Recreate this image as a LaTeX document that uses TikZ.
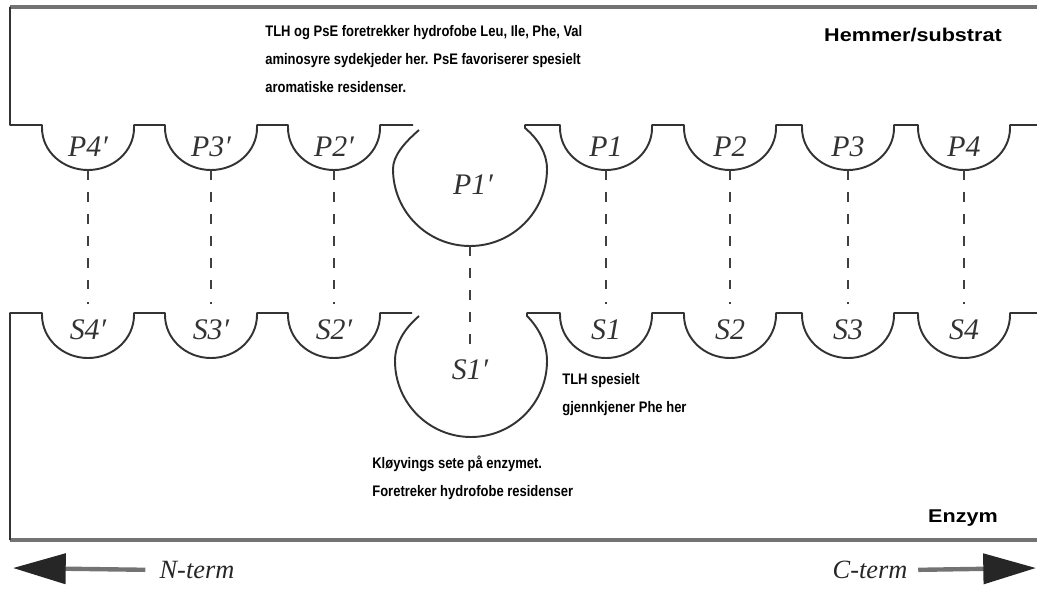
\documentclass[tikz,border=0pt]{standalone}
\usepackage{fontspec}
\usetikzlibrary{arrows.meta}
\newfontfamily\pixfont[FakeStretch=0.85]{Liberation Sans}
\newfontfamily\pixbold[FakeStretch=1.17]{Liberation Sans}
\newfontfamily\labfont{Liberation Serif}
\begin{document}
\begin{tikzpicture}[x=0.02cm,y=-0.02cm,
  outline/.style={draw=black!80, line width=1.1pt, line join=round},
  frame/.style={draw=black!55, line width=1.8pt},
  link/.style={draw=black!75, line width=1pt, dash pattern=on 5.5pt off 7pt},
  site/.style={font=\labfont\itshape\fontsize{17}{17}\selectfont, text=black!80, inner sep=0},
  note/.style={font=\pixfont\bfseries\fontsize{8.7}{15.9}\selectfont, align=left, inner sep=0, anchor=north west},
  heading/.style={font=\pixbold\bfseries\fontsize{10.5}{11}\selectfont, inner sep=0},
  termlabel/.style={font=\labfont\itshape\fontsize{15}{15}\selectfont, text=black!85, inner sep=0},
  termarrow/.style={draw=black!55, line width=2.5pt, -{Triangle[length=30pt,width=17pt,color=black!85]}}
]
\useasboundingbox (0,0) rectangle (1037,588);

% frame lines
\draw[frame] (10,7) -- (1037,7);
\draw[frame] (10,540) -- (1037,540);

% inhibitor / substrate outline
\draw[outline] (10,7) -- (10,125)
  foreach \c in {88,211,334} { -- (\c-46,125) -- (\c-46,128)
     arc[start angle=180,end angle=0,x radius=46,y radius=42] -- (\c+46,125) }
  -- (413,125)
  (419,130) .. controls (404,143) and (393,156) .. (393,169)
  arc[start angle=180,end angle=0,radius=77]
  .. controls (547,153) and (538,139) .. (525,128) -- (525,125)
  foreach \c in {606,730,848,964} { -- (\c-46,125) -- (\c-46,128)
     arc[start angle=180,end angle=0,x radius=46,y radius=42] -- (\c+46,125) }
  -- (1037,125);

% enzyme outline
\draw[outline] (10,540) -- (10,313)
  foreach \c in {88,211,334} { -- (\c-46,313) -- (\c-46,315)
     arc[start angle=180,end angle=0,x radius=46,y radius=43] -- (\c+46,313) }
  -- (412,313)
  (419,316) .. controls (404,329) and (395,344) .. (395,361)
  arc[start angle=180,end angle=0,radius=76]
  .. controls (547,343) and (538,327) .. (527,316) -- (527,313)
  foreach \c in {606,730,848,964} { -- (\c-46,313) -- (\c-46,315)
     arc[start angle=180,end angle=0,x radius=46,y radius=43] -- (\c+46,313) }
  -- (1037,313);

% labels
\node[site] (P4p) at (88,147) {P4′};
\node[site] (P3p) at (211,147) {P3′};
\node[site] (P2p) at (334,147) {P2′};
\node[site] (P1p) at (473,185) {P1′};
\node[site] (P1) at (606,147) {P1};
\node[site] (P2) at (730,147) {P2};
\node[site] (P3) at (848,147) {P3};
\node[site] (P4) at (964,147) {P4};
\node[site] (S4p) at (88,330) {S4′};
\node[site] (S3p) at (211,330) {S3′};
\node[site] (S2p) at (334,330) {S2′};
\node[site] (S1p) at (470,370) {S1′};
\node[site] (S1) at (606,330) {S1};
\node[site] (S2) at (730,330) {S2};
\node[site] (S3) at (848,330) {S3};
\node[site] (S4) at (964,330) {S4};

% dashed links
\foreach \n/\c in {a/88,b/211,c/334,d/606,e/730,f/848,g/964} {
  \coordinate (top-\n) at (\c,170);
  \coordinate (bot-\n) at (\c,304);
  \draw[link] (top-\n) -- (bot-\n);
}
\coordinate (top-mid) at (470,246);
\coordinate (bot-mid) at (470,344);
\draw[link] (top-mid) -- (bot-mid);

% texts
\node[note] (topnote) at (265,25) {TLH og PsE foretrekker hydrofobe Leu, Ile, Phe, Val\\aminosyre sydekjeder her. PsE favoriserer spesielt\\aromatiske residenser.};
\node[heading] (hemmer) at (913,35) {Hemmer/substrat};
\node[note] (tlhnote) at (562,373) {TLH spesielt\\gjennkjener Phe her};
\node[note] (cleave) at (372,456) {Kløyvings sete på enzymet.\\Foretreker hydrofobe residenser};
\node[heading] (enzym) at (963,518) {Enzym};

% termini
\node[termlabel] (nterm) at (197,570) {N-term};
\node[termlabel] (cterm) at (870,570) {C-term};
\coordinate (ntip) at (13,568);
\coordinate (ctip) at (1036,568);
\draw[termarrow, shorten <=8pt] (nterm.west) -- (ntip);
\draw[termarrow, shorten <=6pt] (cterm.east) -- (ctip);
\end{tikzpicture}
\end{document}
